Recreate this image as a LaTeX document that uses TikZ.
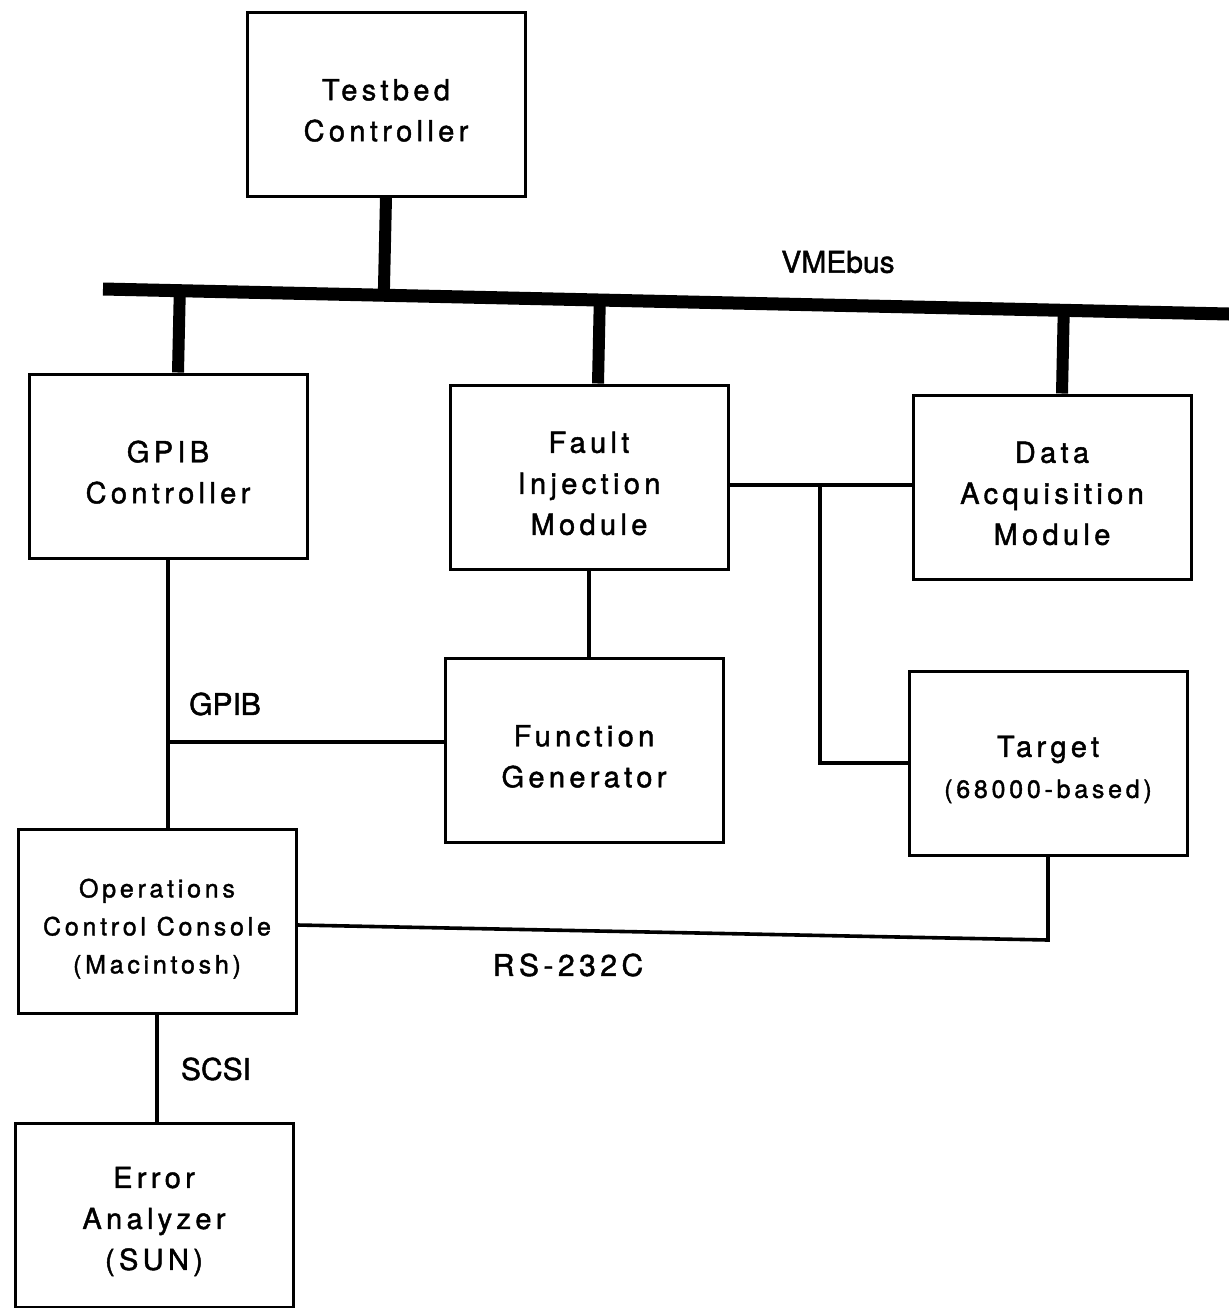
\documentclass[tikz,border=0pt]{standalone}
\usepackage{fontspec}
\setmainfont[FakeBold=1.5]{TeX Gyre Heros}
\newfontfamily\boxfont[LetterSpace=15, FakeBold=1.5]{TeX Gyre Heros}
\newcommand{\boxstrut}{\rule{0pt}{17pt}}
\usetikzlibrary{calc}

\begin{document}
\begin{tikzpicture}[
  x=0.5pt, y=-0.5pt,
  unit/.style={rectangle, draw=black, line width=1.5pt, minimum width=139pt, minimum height=92pt, inner sep=0pt, align=center, font=\boxfont\fontsize{14.5}{20.5}\selectfont},
  small/.style={font=\boxfont\fontsize{12.5}{19}\selectfont},
  bus/.style={line width=6.5pt},
  stub/.style={line width=6pt},
  wire/.style={line width=1.8pt},
  tag/.style={inner sep=0pt, font=\fontsize{15}{18}\selectfont}
]
\useasboundingbox (0,0) rectangle (1229,1308);

% Units
\node[unit] (tbc) at (386,104) {\boxstrut Testbed\\Controller};
\node[unit] (gpib) at (168,466) {\boxstrut GPIB\\Controller};
\node[unit] (fim) at (589,477) {\boxstrut Fault\\Injection\\Module};
\node[unit] (dam) at (1052,487) {\boxstrut Data\\Acquisition\\Module};
\node[unit] (fgen) at (584,750) {\boxstrut Function\\Generator};
\node[unit] (target) at (1048,763) {\boxstrut Target\\\fontsize{12.5}{19}\selectfont(68000-based)};
\node[unit, small] (occ) at (157,921) {\boxstrut Operations\\Control Console\\(Macintosh)};
\node[unit] (ea) at (154,1215) {\boxstrut Error\\Analyzer\\(SUN)};

% VMEbus
\coordinate (busL) at (103,289);
\coordinate (busR) at (1229,314);
\draw[bus] (busL) -- (busR);
\node[tag] (vmelabel) at (838,262) {VMEbus};

\coordinate (gpibtop) at ([xshift=5pt]gpib.north);
\coordinate (fimtop) at ([xshift=4.5pt]fim.north);
\coordinate (damtop) at ([xshift=5pt]dam.north);
\draw[stub] (tbc.south) -- ($(busL)!(tbc.south)!(busR)$);
\draw[stub] (gpibtop) -- ($(busL)!(gpibtop)!(busR)$);
\draw[stub] (fimtop) -- ($(busL)!(fimtop)!(busR)$);
\draw[stub] (damtop) -- ($(busL)!(damtop)!(busR)$);

% GPIB
\coordinate (gpibtap) at (168,742);
\draw[wire] (gpib.south) -- (gpib.south |- occ.north);
\draw[wire] (gpibtap) -- (gpibtap -| fgen.west);
\node[tag] (gpiblabel) at (225,704) {GPIB};

% Fault injection lines
\coordinate (daqtap) at (820,485);
\draw[wire] (fim.south) -- (fim.south |- fgen.north);
\draw[wire] (daqtap -| fim.east) -- (daqtap -| dam.west);
\draw[wire] (daqtap) |- (target.west);

% RS-232C
\coordinate (rstap) at (1048,940);
\draw[wire] ([yshift=-2pt]occ.east) -- (rstap) -- (target.south);
\node[tag, font=\boxfont\fontsize{15}{18}\selectfont] (rslabel) at (568,965) {RS-232C};

% SCSI
\draw[line width=2.2pt] (occ.south) -- (occ.south |- ea.north);
\node[tag] (scsilabel) at (216,1069) {SCSI};

\end{tikzpicture}
\end{document}
